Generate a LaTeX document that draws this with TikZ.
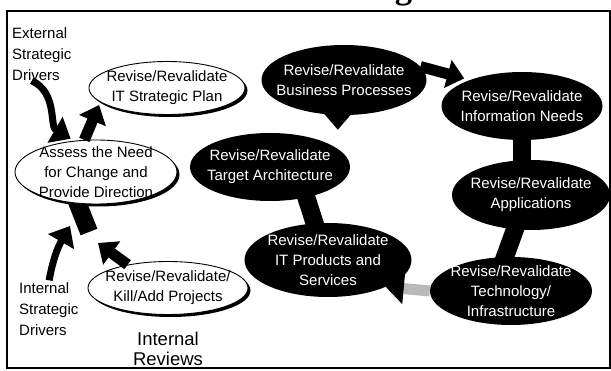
\documentclass[tikz,border=0pt]{standalone}
\usepackage{fontspec}
\setmainfont{Liberation Sans}
\newfontfamily\titlefont{Liberation Serif}
\usepackage{tikz}
\usetikzlibrary{shapes.geometric, shadows, backgrounds}
\usetikzlibrary{positioning, arrows.meta}

\begin{document}
\begin{tikzpicture}[
        x=1pt, y=-1pt,
        font=\fontsize{15}{20}\selectfont,
        lightbox/.style={ellipse, draw=black, line width=0.9pt, fill=white, inner xsep=-14pt, inner ysep=-6pt, align=center,
            drop shadow={shadow xshift=2.5pt, shadow yshift=-2.5pt, fill=black, opacity=1}},
        darkbox/.style={ellipse, fill=black, text=white, inner xsep=-14pt, inner ysep=-6pt, align=center},
        driver/.style={align=left, inner sep=0pt, font=\fontsize{15}{21}\selectfont},
        reviews/.style={align=center, inner sep=0pt, font=\fontsize{18.5}{20}\selectfont},
        heading/.style={inner sep=0pt, font=\titlefont\bfseries\fontsize{34.5}{40}\selectfont},
        boxframe/.style={line width=1.5pt},
        flow/.style={line width=11pt, -{Triangle[length=17pt, width=28pt]}},
        swoosh/.style={line width=7pt, -{Triangle[length=18pt, width=29pt]}},
        stem/.style={line width=18pt, shorten <=-6pt, shorten >=-6pt}
    ]
        \useasboundingbox (0,0) rectangle (611,371);

        % ===== title (cut off) and frame =====
        \node[heading, anchor=base] (title) at (323,-1) {of the IRM Strategic Plan};
        \draw[boxframe] (7,11) rectangle (610,368);

        % ===== left part =====
        \node[driver, anchor=west] (ext) at (12,54) {External\\Strategic\\Drivers};
        \node[lightbox, minimum width=156pt, minimum height=53pt] (plan) at (167,88) {Revise/Revalidate\\IT Strategic Plan};
        \node[lightbox, minimum width=162pt, minimum height=64pt] (assess) at (96,172) {Assess the Need\\for Change and\\Provide Direction};
        \node[lightbox, minimum width=160pt, minimum height=53pt] (killadd) at (168,288) {Revise/Revalidate/\\Kill/Add Projects};
        \node[driver, anchor=west] (intdrv) at (19,309) {Internal\\Strategic\\Drivers};
        \node[reviews, below=17pt of killadd] (rev) {Internal\\Reviews};
        \coordinate (junct) at (89,232);

        % ===== right part =====
        \node[darkbox, minimum width=165pt, minimum height=70pt] (biz) at (344,80) {Revise/Revalidate\\Business Processes};
        \node[darkbox, minimum width=161pt, minimum height=68pt] (info) at (522,106) {Revise/Revalidate\\Information Needs};
        \node[darkbox, minimum width=158pt, minimum height=70pt] (apps) at (531,195) {Revise/Revalidate\\Applications};
        \node[darkbox, minimum width=162pt, minimum height=68pt] (tech) at (511,291) {Revise/Revalidate\\Technology/\\Infrastructure};
        \node[darkbox, minimum width=167pt, minimum height=74pt] (itprod) at (328,260) {Revise/Revalidate\\IT Products and\\Services};
        \node[darkbox, minimum width=160pt, minimum height=68pt] (target) at (270,167) {Revise/Revalidate\\Target Architecture};

        % ===== connectors =====
        \begin{scope}[on background layer]
            \draw[stem] (info.south) -- (info.south |- apps.north);
            \draw[stem] (apps.-115) -- (tech.100);
            \draw[stem] (target.-40) -- (itprod.110);
            \draw[stem, shorten <=0pt] (junct) -- (assess.-120);
        \end{scope}

        \draw[swoosh, shorten >=4pt] ([xshift=-10pt]ext.south) to[out=-25, in=150] (assess.125);
        \draw[flow, shorten >=3pt] (assess.110) -- (plan.-168);
        \draw[swoosh, shorten <=2pt] (intdrv.north) to[out=80, in=-120] ([xshift=-19pt, yshift=6pt]junct);
        \draw[flow] (killadd.150) -- ([xshift=9pt, yshift=-11pt]junct);

        \draw[flow] (biz.10) -- ([xshift=-10pt]info.150);
        \draw[flow, shorten >=3pt] (biz.-100) -- (biz.-100 |- target.north);
        \draw[flow, gray!55, -{Triangle[length=18pt, width=30pt, color=black]}] (tech.west) -- (itprod.-25);

    \end{tikzpicture}
\end{document}
